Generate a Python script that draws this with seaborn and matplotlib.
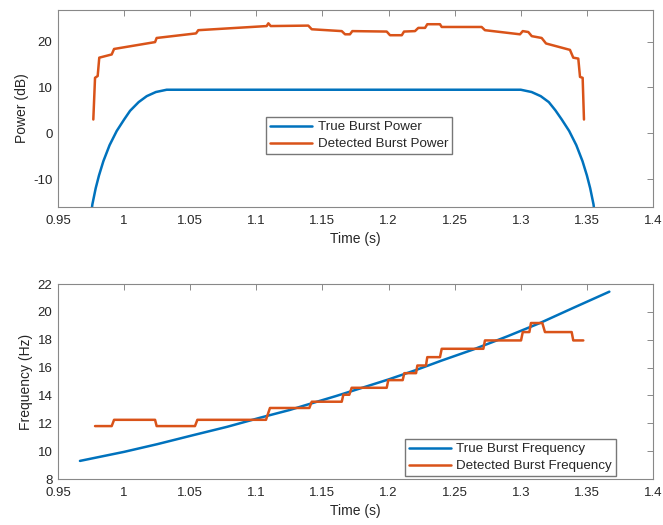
import numpy as np
import pandas as pd
import seaborn as sns
import matplotlib.pyplot as plt
from matplotlib.ticker import FuncFormatter

# True burst power (dB)
true_pow_t = [0.9740, 0.9760, 0.9785, 0.9810, 0.9843, 0.9890, 0.9944, 1.0000,
              1.0045, 1.0110, 1.0171, 1.0240, 1.0322, 1.3000, 1.3082, 1.3151,
              1.3212, 1.3262, 1.3310, 1.3366, 1.3420, 1.3467, 1.3500, 1.3525,
              1.3550, 1.3570]
true_pow = [-20, -15.5, -12.0, -9.2, -6.1, -2.6, 0.5, 3.0,
            4.9, 6.8, 8.1, 9.0, 9.5, 9.5, 9.0, 8.1,
            6.8, 5.0, 3.0, 0.5, -2.6, -6.1, -9.2, -12.0,
            -15.5, -20]

# Detected burst power (dB)
det_pow_t = [0.9767, 0.9780, 0.9800, 0.9812, 0.9906, 0.9924, 1.0234, 1.0246,
             1.0544, 1.0561, 1.1078, 1.1091, 1.1109, 1.1393, 1.1419, 1.1646,
             1.1671, 1.1708, 1.1726, 1.1986, 1.2011, 1.2100, 1.2117, 1.2200,
             1.2225, 1.2276, 1.2293, 1.2389, 1.2402, 1.2704, 1.2729, 1.2994,
             1.3015, 1.3057, 1.3083, 1.3158, 1.3191, 1.3372, 1.3397, 1.3435,
             1.3448, 1.3468, 1.3478]
det_pow = [3.0, 12.1, 12.5, 16.5, 17.2, 18.4, 19.9, 20.8,
           21.8, 22.5, 23.4, 24.0, 23.4, 23.5, 22.7, 22.3,
           21.6, 21.6, 22.3, 22.2, 21.4, 21.4, 22.2, 22.3,
           23.0, 23.0, 23.8, 23.8, 23.2, 23.2, 22.5, 21.6,
           22.3, 22.1, 21.2, 20.8, 19.6, 18.2, 16.5, 16.3,
           12.3, 12.1, 3.0]

# True burst frequency (Hz)
true_freq_t = [0.9666, 1.0000, 1.0250, 1.0523, 1.0780, 1.1028, 1.1250, 1.1406,
               1.1600, 1.1784, 1.2000, 1.2200, 1.2400, 1.2641, 1.2900, 1.3145,
               1.3400, 1.3670]
true_freq = [9.3, 9.95, 10.5, 11.15, 11.75, 12.4, 12.95, 13.4,
             13.95, 14.5, 15.15, 15.8, 16.5, 17.3, 18.25, 19.2,
             20.3, 21.45]

# Detected burst frequency (Hz)
det_freq_t = [0.9780, 0.9906, 0.9924, 1.0234, 1.0246, 1.0536, 1.0554, 1.1073,
              1.1103, 1.1401, 1.1419, 1.1646, 1.1658, 1.1703, 1.1721, 1.1986,
              1.1998, 1.2107, 1.2119, 1.2208, 1.2218, 1.2283, 1.2293, 1.2389,
              1.2402, 1.2717, 1.2729, 1.3002, 1.3015, 1.3065, 1.3077, 1.3163,
              1.3183, 1.3385, 1.3397, 1.3473]
det_freq = [11.8, 11.8, 12.25, 12.25, 11.8, 11.8, 12.25, 12.25,
            13.1, 13.1, 13.55, 13.55, 14.05, 14.05, 14.55, 14.55,
            15.1, 15.1, 15.6, 15.6, 16.15, 16.15, 16.75, 16.75,
            17.35, 17.35, 17.95, 17.95, 18.55, 18.55, 19.2, 19.2,
            18.55, 18.55, 17.95, 17.95]

x_ticks = [0.95, 1.0, 1.05, 1.1, 1.15, 1.2, 1.25, 1.3, 1.35, 1.4]

BLUE = '#0072BD'
ORANGE = '#D95319'
TXT = '#262626'

sns.set_style('white')
plt.rcParams['font.family'] = ['Liberation Sans', 'DejaVu Sans']
plt.rcParams['axes.unicode_minus'] = False

fig = plt.figure(figsize=(6.63, 5.25), dpi=100)
ax1 = fig.add_axes([0.0875, 0.6057, 0.8974, 0.3752])
ax2 = fig.add_axes([0.0875, 0.0876, 0.8974, 0.3714])

leg_kw = dict(loc='upper left', borderaxespad=0, fontsize=9.6, fancybox=False,
              framealpha=1, edgecolor='#777777', handlelength=3.15,
              handletextpad=0.4, labelspacing=0.35, borderpad=0.3)

sns.lineplot(x=true_pow_t, y=true_pow, ax=ax1, color=BLUE, lw=1.8,
             estimator=None, sort=False, label='True Burst Power')
sns.lineplot(x=det_pow_t, y=det_pow, ax=ax1, color=ORANGE, lw=1.8,
             estimator=None, sort=False, label='Detected Burst Power')
ax1.set_ylim(-16.1, 26.9)
ax1.set_yticks([-10, 0, 10, 20])
ax1.set_ylabel('Power (dB)', fontsize=10, color=TXT, labelpad=3)
ax1.legend(bbox_to_anchor=(0.35, 0.457), **leg_kw)

sns.lineplot(x=true_freq_t, y=true_freq, ax=ax2, color=BLUE, lw=1.8,
             estimator=None, sort=False, label='True Burst Frequency')
sns.lineplot(x=det_freq_t, y=det_freq, ax=ax2, color=ORANGE, lw=1.8,
             estimator=None, sort=False, label='Detected Burst Frequency')
ax2.set_ylim(8, 22)
ax2.set_yticks(np.arange(8, 23, 2))
ax2.set_ylabel('Frequency (Hz)', fontsize=10, color=TXT, labelpad=3)
ax2.legend(bbox_to_anchor=(0.583, 0.205), **leg_kw)

for ax in (ax1, ax2):
    ax.set_xlim(0.95, 1.4)
    ax.set_xticks(x_ticks)
    ax.xaxis.set_major_formatter(FuncFormatter(lambda v, p: f'{v:g}'))
    ax.set_xlabel('Time (s)', fontsize=10, color=TXT, labelpad=3)
    ax.tick_params(direction='in', length=4, width=0.6, color='#777777',
                   labelsize=9.5, labelcolor=TXT, top=True, right=True)
    ax.tick_params(axis='x', pad=6)
    ax.tick_params(axis='y', pad=4)
    for s in ax.spines.values():
        s.set_color('#888888')
        s.set_linewidth(0.8)
    for txt in ax.get_legend().get_texts():
        txt.set_color(TXT)

fig.savefig('out.png', dpi=100)
